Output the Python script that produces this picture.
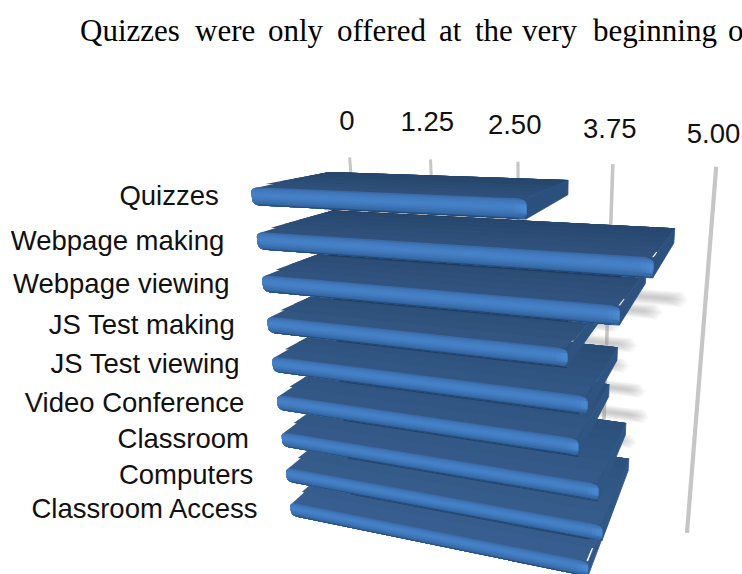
import numpy as np, plotly.graph_objects as go

categories = ["Quizzes", "Webpage making", "Webpage viewing", "JS Test making", "JS Test viewing",
              "Video Conference", "Classroom", "Computers", "Classroom Access"]
values = [3.32, 4.62, 4.31, 3.77, 4.00, 3.91, 4.15, 4.21, 4.06]
tick_values = [0, 1.25, 2.50, 3.75, 5.00]
tick_labels = ["0", "1.25", "2.50", "3.75", "5.00"]

# perspective scale of the 3D plot (value, row, depth) -> page
PX = [63.5083, 10.7291, 136.768, 250.622]
PY = [-3.87169, 49.5014, 15.4594, 186.946]
PW = [-0.0371563, 0.0201227, 0.176376]
THICK, WALL, H_TOP, H_BOT = 0.40, 1.3328, -0.2858, 9.5672

def proj(v, h, d):
    w = PW[0]*v + PW[1]*h + PW[2]*d + 1
    return (PX[0]*v + PX[1]*h + PX[2]*d + PX[3])/w, (PY[0]*v + PY[1]*h + PY[2]*d + PY[3])/w

fig = go.Figure()
def poly(pts, color, edge=0):
    xy = [proj(*p) for p in pts]
    xy.append(xy[0])
    fig.add_scatter(x=[a for a, _ in xy], y=[b for _, b in xy], mode="lines", fill="toself",
                    fillcolor=color, line=dict(width=edge, color=color, simplify=False), hoverinfo="skip")

# wall grid lines
for v, w in zip(tick_values, [3, 3, 3.2, 3.6, 4.2]):
    a, b = proj(v, H_TOP, WALL), proj(v, H_BOT, WALL)
    fig.add_scatter(x=[a[0], b[0]], y=[a[1], b[1]], mode="lines", line=dict(color="#c6c6c6", width=w), hoverinfo="skip")

# soft shadows on the wall
for r, V in enumerate(values):
    if r == 0:
        continue
    hs = 2.65 + 0.27*r + 0.035*r*r
    for k in range(8):
        e = 0.16 - 0.03*k
        dh = 0.025 + 0.024*(7-k)
        poly([(3.2, hs-dh, WALL), (V+e-0.07, hs-dh, WALL), (V+e, hs, WALL), (V+e-0.07, hs+dh, WALL), (3.2, hs+dh, WALL)],
             "rgba(150,150,150,0.08)")

front = ["#3a6ba9", "#3f74b6", "#4279bd", "#447dc2", "#4580c6", "#4581c7", "#447ec3", "#417abd", "#3e75b6",
         "#3a6fae", "#3568a5", "#2f5e97"]
N = len(front)
def inset(u):
    # rounded outline of the bar end, u in 0..1 across the thickness
    rho = 0.32
    q = max(0.0, abs(u-0.5) - (0.5-rho))/rho
    return 0.085*(1-np.sqrt(max(0.0, 1-q*q)))

def band(r, V, u0):
    us = np.linspace(u0, 1, 14)
    return [(inset(u), r+THICK*u, 0) for u in us] + [(V-inset(u), r+THICK*u, 0) for u in us[::-1]]

for r in range(len(values)-1, -1, -1):
    V = values[r]
    shade = r/8
    # top plate in depth bands, running slightly under the front face
    D = 6
    for k in range(D):
        d0 = k/D
        f = 1 - k/(D-1)
        c = "rgb(%d,%d,%d)" % (38+9*f+8*shade, 70+10*f+14*shade, 108+14*f+20*shade)
        base = [(0.03, r+0.03, 0), (V-0.03, r+0.03, 0)] if k == 0 else [(0.0, r, d0), (V, r, d0)]
        poly(base + [(V, r, 1), (0, r, 1)], c)
    # end of the bar, and a matching patch behind the rounded front corners
    side = "rgb(%d,%d,%d)" % (44+6*shade, 80+8*shade, 125+10*shade)
    poly([(V, r, 0), (V, r, 1), (V, r+THICK*0.85, 1), (V, r+THICK*0.98, 0)], side, edge=0.8)
    poly([(V-0.14, r+0.01, 0), (V, r, 0), (V, r+THICK*0.98, 0), (V-0.14, r+THICK, 0)], side, edge=0.8)
    # front face, painted from the top band down
    for k in range(N):
        poly(band(r, V, k/N), front[k])
    # lit corner at the right end
    for w in (0.12, 0.07, 0.03):
        us = np.linspace(0.26, 0.74, 8)
        poly([(V-w, r+THICK*u, 0) for u in us] + [(V-inset(u)-0.006, r+THICK*u, 0) for u in us[::-1]], "rgba(96,165,240,0.13)")
    # thin dark lower edge
    e1 = inset(1)
    poly([(e1, r+THICK, 0), (V-e1, r+THICK, 0), (V-e1, r+THICK-0.016, 0), (e1, r+THICK-0.016, 0)], "#23466f")
    # contact shadow on the next plate
    if r < len(values)-1:
        e = min(V, values[r+1])
        poly([(0.95, r+THICK, 0), (e, r+THICK, 0), (e, r+THICK+0.03, 0), (0.95, r+THICK+0.03, 0)], "rgba(18,36,62,0.4)")

# texts
tp = [proj(v, H_TOP-0.93, WALL) for v in tick_values]
fig.add_scatter(x=[p[0]-1.2*v for p, v in zip(tp, tick_values)], y=[p[1]+1+0.4*v*v for p, v in zip(tp, tick_values)],
                text=tick_labels, mode="text", textposition="middle center",
                textfont=dict(family="Liberation Sans", size=27.5, color="#111"), hoverinfo="skip", cliponaxis=False)
lp = [proj(0, r+THICK/2, 0) for r in range(len(categories))]
fig.add_scatter(x=[p[0]-33 for p in lp], y=[p[1]+2.5 for p in lp], text=categories, mode="text", textposition="middle left",
                textfont=dict(family="Liberation Sans", size=27.5, color="#111"), hoverinfo="skip", cliponaxis=False)

words = ["Quizzes", "were", "only", "offered", "at", "the", "very", "beginning", "o"]
word_x = [78, 193, 266, 335, 437, 473, 520, 591, 726]
for w, x in zip(words, word_x):
    fig.add_annotation(x=x, y=30, text=w, xanchor="left", yanchor="middle", showarrow=False,
                       font=dict(family="Liberation Serif", size=31, color="#000"))

fig.update_layout(width=742, height=574, margin=dict(l=0, r=0, t=0, b=0), showlegend=False,
                  paper_bgcolor="white", plot_bgcolor="white",
                  xaxis=dict(range=[0, 742], visible=False, fixedrange=True),
                  yaxis=dict(range=[574, 0], visible=False, fixedrange=True))
fig.write_html("out.html", post_script="document.body.style.margin='0';document.body.style.overflow='hidden';",
               config=dict(displayModeBar=False))
